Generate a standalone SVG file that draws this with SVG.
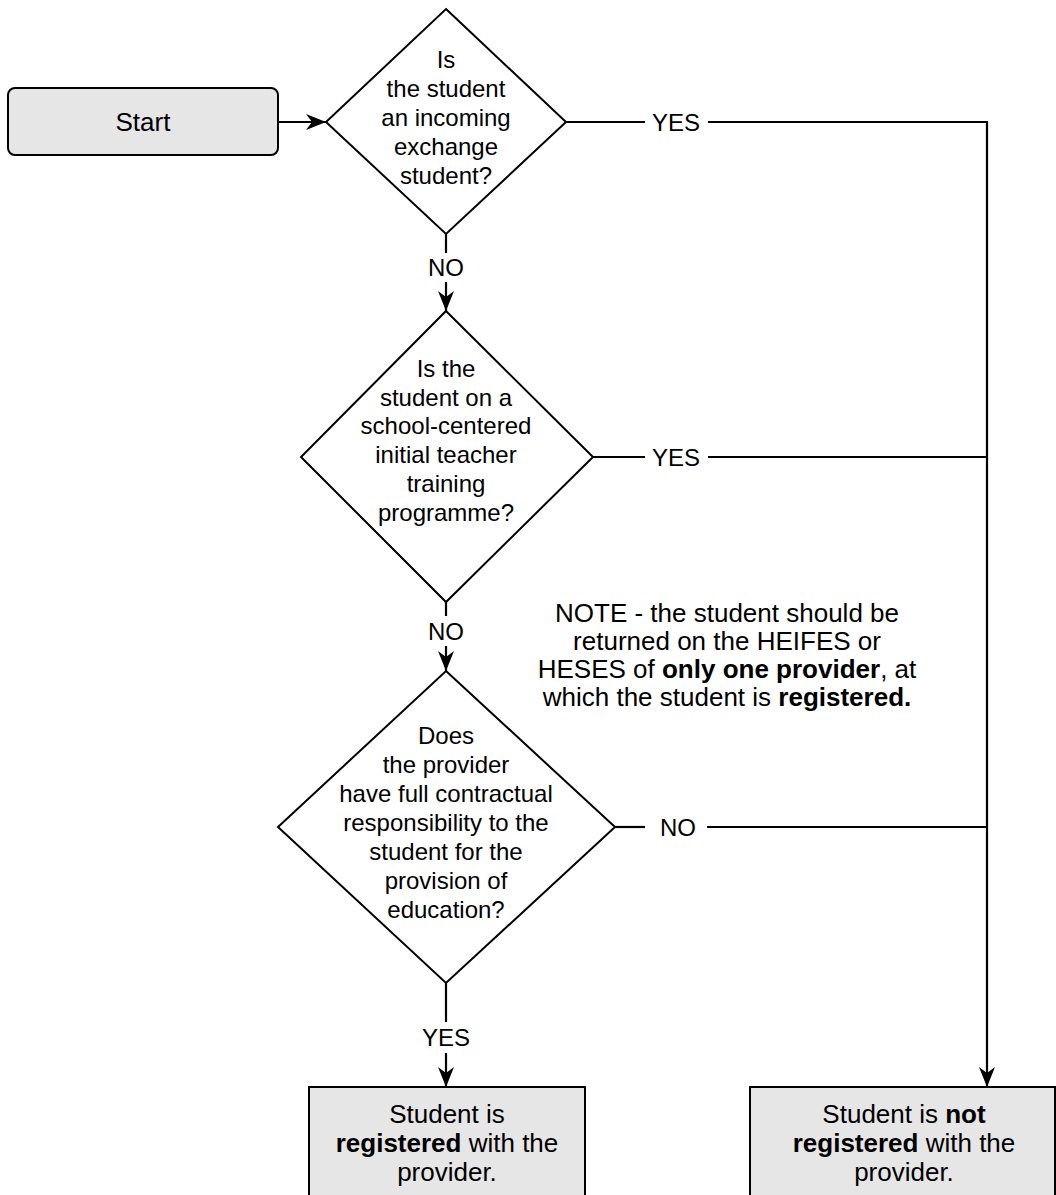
<svg xmlns="http://www.w3.org/2000/svg" width="1056" height="1195" viewBox="0 0 1056 1195">
<style>
text{font-family:"Liberation Sans",Arial,sans-serif;fill:#000;text-anchor:middle;dominant-baseline:central}
.d{font-size:24px}
.l{font-size:24px}
.n{font-size:26px}
.b{font-weight:bold}
.shape{fill:#fff;stroke:#000;stroke-width:2}
.term{fill:#e6e6e6;stroke:#000;stroke-width:2}
.c{fill:none;stroke:#000;stroke-width:2.2}
</style>
<defs>
<marker id="ah" markerUnits="userSpaceOnUse" markerWidth="24" markerHeight="20" refX="21" refY="10" orient="auto" overflow="visible">
<path d="M1,2 L21,10 L1,18 L7,10 Z" fill="#000"/>
</marker>
</defs>
<rect width="1056" height="1195" fill="#fff"/>
<g id="connectors">
<line class="c" x1="278" y1="122" x2="326" y2="122" marker-end="url(#ah)"/>
<line class="c" x1="566" y1="122" x2="645" y2="122"/>
<polyline class="c" points="708,122 987,122 987,1087" marker-end="url(#ah)"/>
<line class="c" x1="593" y1="457" x2="645" y2="457"/>
<line class="c" x1="708" y1="457" x2="987" y2="457"/>
<line class="c" x1="615" y1="827" x2="645" y2="827"/>
<line class="c" x1="707" y1="827" x2="987" y2="827"/>
<line class="c" x1="446" y1="234" x2="446" y2="253"/>
<line class="c" x1="446" y1="282" x2="446" y2="311" marker-end="url(#ah)"/>
<line class="c" x1="446" y1="602" x2="446" y2="616"/>
<line class="c" x1="446" y1="646" x2="446" y2="671" marker-end="url(#ah)"/>
<line class="c" x1="446" y1="983" x2="446" y2="1022"/>
<line class="c" x1="446" y1="1053" x2="446" y2="1087" marker-end="url(#ah)"/>
<text class="l" x="676" y="122">YES</text>
<text class="l" x="676" y="457">YES</text>
<text class="l" x="678" y="827">NO</text>
<text class="l" x="446" y="267">NO</text>
<text class="l" x="446" y="631">NO</text>
<text class="l" x="446" y="1037">YES</text>
</g>
<g id="start">
<rect class="term" x="8" y="88" width="270" height="67" rx="7"/>
<text class="n" x="143" y="122">Start</text>
</g>
<g id="q1">
<polygon class="shape" points="446,9 566,122 446,234 326,122"/>
<text class="d" x="446" y="59">Is</text>
<text class="d" x="446" y="88">the student</text>
<text class="d" x="446" y="117">an incoming</text>
<text class="d" x="446" y="146">exchange</text>
<text class="d" x="446" y="175">student?</text>
</g>
<g id="q2">
<polygon class="shape" points="446,311 593,457 446,602 301,457"/>
<text class="d" x="446" y="368">Is the</text>
<text class="d" x="446" y="397">student on a</text>
<text class="d" x="446" y="425">school-centered</text>
<text class="d" x="446" y="454">initial teacher</text>
<text class="d" x="446" y="483">training</text>
<text class="d" x="446" y="512">programme?</text>
</g>
<g id="q3">
<polygon class="shape" points="446,671 615,827 446,983 278,827"/>
<text class="d" x="446" y="735">Does</text>
<text class="d" x="446" y="764">the provider</text>
<text class="d" x="446" y="793">have full contractual</text>
<text class="d" x="446" y="822">responsibility to the</text>
<text class="d" x="446" y="851">student for the</text>
<text class="d" x="446" y="880">provision of</text>
<text class="d" x="446" y="909">education?</text>
</g>
<g id="note">
<text class="n" x="727" y="613">NOTE - the student should be</text>
<text class="n" x="727" y="641">returned on the HEIFES or</text>
<text class="n" x="727" y="669">HESES of <tspan class="b">only one provider</tspan>, at</text>
<text class="n" x="727" y="697">which the student is <tspan class="b">registered.</tspan></text>
</g>
<g id="registered">
<rect class="term" x="309" y="1087" width="276" height="120"/>
<text class="n" x="447" y="1114">Student is</text>
<text class="n" x="447" y="1143"><tspan class="b">registered</tspan> with the</text>
<text class="n" x="447" y="1172">provider.</text>
</g>
<g id="not-registered">
<rect class="term" x="750" y="1087" width="305" height="120"/>
<text class="n" x="904" y="1114">Student is <tspan class="b">not</tspan></text>
<text class="n" x="904" y="1143"><tspan class="b">registered</tspan> with the</text>
<text class="n" x="904" y="1172">provider.</text>
</g>
</svg>
